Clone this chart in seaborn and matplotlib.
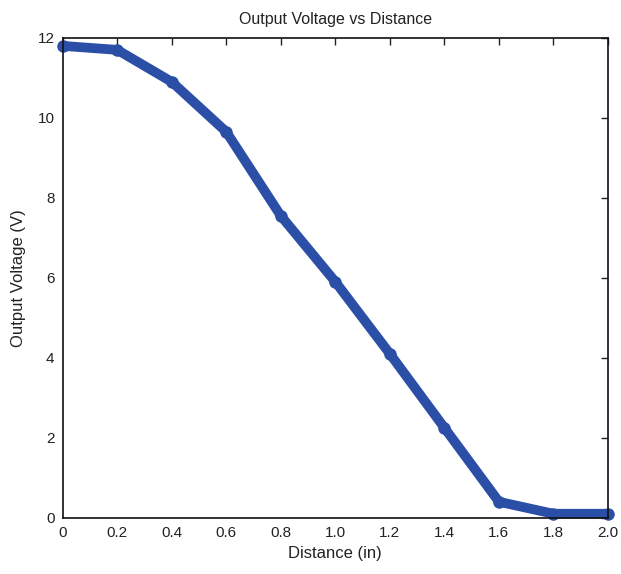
import matplotlib
matplotlib.use("Agg")
import matplotlib.pyplot as plt
import pandas as pd
import seaborn as sns

distance = [0.0, 0.2, 0.4, 0.6, 0.8, 1.0, 1.2, 1.4, 1.6, 1.8, 2.0]
voltage = [11.8, 11.7, 10.9, 9.65, 7.55, 5.9, 4.1, 2.25, 0.4, 0.1, 0.1]
x_ticks = [0, 0.2, 0.4, 0.6, 0.8, 1.0, 1.2, 1.4, 1.6, 1.8, 2.0]
x_labels = ["0", "0.2", "0.4", "0.6", "0.8", "1.0", "1.2", "1.4", "1.6", "1.8", "2.0"]
y_ticks = [0, 2, 4, 6, 8, 10, 12]

df = pd.DataFrame({"distance": distance, "voltage": voltage})

sns.set_style("white")
plt.rcParams["font.family"] = ["Liberation Sans", "DejaVu Sans"]

fig = plt.figure(figsize=(6.21, 5.74), dpi=100)
ax = fig.add_axes([0.101, 0.098, 0.878, 0.836])

sns.lineplot(data=df, x="distance", y="voltage", ax=ax, color="#2b4ea6",
             linewidth=7, marker="o", markersize=9, markeredgewidth=0)
for ln in ax.lines:
    ln.set_clip_on(False)

ax.set_xlim(0, 2.0)
ax.set_ylim(0, 12)
ax.set_xticks(x_ticks)
ax.set_xticklabels(x_labels)
ax.set_yticks(y_ticks)
ax.tick_params(direction="in", length=5, width=1, top=True, right=True,
               labelsize=11, colors="#222222", pad=6)
for s in ax.spines.values():
    s.set_color("#111111")
    s.set_linewidth(1.2)

ax.set_xlabel("Distance (in)", fontsize=12, color="#222222", labelpad=4)
ax.set_ylabel("Output Voltage (V)", fontsize=12, color="#222222", labelpad=8)
ax.set_title("Output Voltage vs Distance", fontsize=11.5, color="#222222", pad=10)

fig.savefig("out.png", dpi=100)
